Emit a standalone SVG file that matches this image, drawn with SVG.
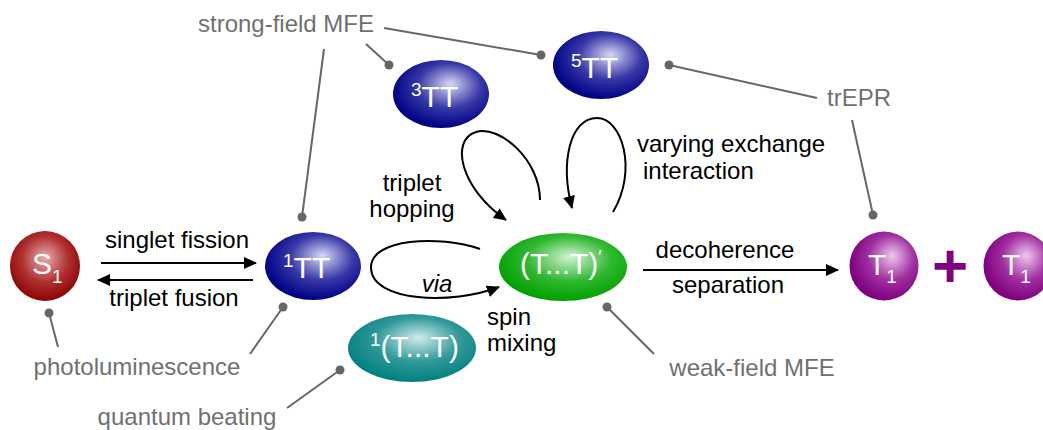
<svg xmlns="http://www.w3.org/2000/svg" width="1043" height="430" viewBox="0 0 1043 430">
<style>
text{font-family:"Liberation Sans",Arial,sans-serif}
.lbl{font-size:24px;fill:#000}
.gry{font-size:24px;fill:#707070}
.node{font-size:30px;fill:#fff}
.sup{font-size:19px}
.ld{stroke:#666;stroke-width:2;fill:none}
.dot{fill:#666}
.arr{stroke:#000;stroke-width:2;fill:none;marker-end:url(#ah)}
</style>
<defs>
<marker id="ah" markerWidth="14" markerHeight="12" refX="12" refY="6" orient="auto" markerUnits="userSpaceOnUse">
<path d="M0,0 L13,6 L0,12 z" fill="#000"/>
</marker>
<radialGradient id="gRed" cx="0.5" cy="0.42" r="0.6" fx="0.5" fy="0.38">
<stop offset="0" stop-color="#eab0b0"/><stop offset="0.55" stop-color="#b03030"/><stop offset="1" stop-color="#8a0000"/>
</radialGradient>
<radialGradient id="gBlue" cx="0.58" cy="0.4" r="0.6" fx="0.6" fy="0.35">
<stop offset="0" stop-color="#d8d8f4"/><stop offset="0.55" stop-color="#3838a8"/><stop offset="1" stop-color="#000084"/>
</radialGradient>
<radialGradient id="gGreen" cx="0.55" cy="0.4" r="0.6" fx="0.55" fy="0.35">
<stop offset="0" stop-color="#d4f4d4"/><stop offset="0.55" stop-color="#30b830"/><stop offset="1" stop-color="#00a000"/>
</radialGradient>
<radialGradient id="gTeal" cx="0.55" cy="0.4" r="0.6" fx="0.55" fy="0.35">
<stop offset="0" stop-color="#d0ecec"/><stop offset="0.55" stop-color="#309898"/><stop offset="1" stop-color="#008080"/>
</radialGradient>
<radialGradient id="gPurp" cx="0.6" cy="0.4" r="0.6" fx="0.62" fy="0.35">
<stop offset="0" stop-color="#f0c8f0"/><stop offset="0.55" stop-color="#a030a0"/><stop offset="1" stop-color="#800080"/>
</radialGradient>
</defs>

<g id="connectors">
<line class="arr" x1="101" y1="263" x2="256" y2="263"/>
<line class="arr" x1="253" y1="280" x2="98" y2="280"/>
<line class="arr" x1="643" y1="270" x2="838" y2="270"/>
<path class="arr" d="M540,200 C540,160 500,125 476,132 C450,140 460,188 506,220"/>
<path class="arr" d="M613,212 C638,170 622,118 597,118 C570,118 560,162 572,208"/>
<path class="arr" d="M480,249 C440,235 370,238 371,268 C372,302 452,305 499,287"/>
</g>

<g id="leaders">
<line class="ld" x1="324" y1="49" x2="302" y2="217"/><circle class="dot" cx="302" cy="217" r="4.5"/>
<line class="ld" x1="366" y1="44" x2="389" y2="65"/><circle class="dot" cx="389" cy="65" r="4.5"/>
<line class="ld" x1="384" y1="28" x2="541" y2="55"/><circle class="dot" cx="541" cy="55" r="4.5"/>
<line class="ld" x1="817" y1="98" x2="669" y2="65"/><circle class="dot" cx="669" cy="65" r="4.5"/>
<line class="ld" x1="852" y1="120" x2="873" y2="215"/><circle class="dot" cx="873" cy="215" r="4.5"/>
<line class="ld" x1="58" y1="347" x2="49" y2="313"/><circle class="dot" cx="49" cy="313" r="4.5"/>
<line class="ld" x1="250" y1="354" x2="283" y2="307"/><circle class="dot" cx="283" cy="307" r="4.5"/>
<line class="ld" x1="287" y1="408" x2="340" y2="370"/><circle class="dot" cx="340" cy="370" r="4.5"/>
<line class="ld" x1="654" y1="354" x2="607" y2="307"/><circle class="dot" cx="607" cy="307" r="4.5"/>
</g>

<g id="S1"><circle cx="45" cy="266" r="35" fill="url(#gRed)"/>
<text class="node" x="32" y="274">S<tspan class="sup" dy="9">1</tspan></text></g>
<g id="TT1"><ellipse cx="313" cy="266" rx="48" ry="34" fill="url(#gBlue)"/>
<text class="node" x="283" y="278"><tspan class="sup" dy="-11">1</tspan><tspan dy="11">TT</tspan></text></g>
<g id="TT3"><ellipse cx="441" cy="94" rx="48" ry="34" fill="url(#gBlue)"/>
<text class="node" x="411" y="107"><tspan class="sup" dy="-11">3</tspan><tspan dy="11">TT</tspan></text></g>
<g id="TT5"><ellipse cx="601" cy="65" rx="48" ry="34" fill="url(#gBlue)"/>
<text class="node" x="571" y="78"><tspan class="sup" dy="-11">5</tspan><tspan dy="11">TT</tspan></text></g>
<g id="TTsep"><ellipse cx="563" cy="267" rx="64" ry="34" fill="url(#gGreen)"/>
<text class="node" x="520" y="274">(T...T)<tspan class="sup" dy="-11">′</tspan></text></g>
<g id="TTsep1"><ellipse cx="412" cy="348" rx="64" ry="34" fill="url(#gTeal)"/>
<text class="node" x="370" y="357"><tspan class="sup" dy="-11">1</tspan><tspan dy="11">(T...T)</tspan></text></g>
<g id="T1a"><circle cx="884" cy="266" r="34.5" fill="url(#gPurp)"/>
<text class="node" x="868" y="275">T<tspan class="sup" dy="8">1</tspan></text></g>
<g id="plus"><text x="950" y="287" text-anchor="middle" font-size="62" font-weight="bold" fill="#800080">+</text></g>
<g id="T1b"><circle cx="1018" cy="266" r="34.5" fill="url(#gPurp)"/>
<text class="node" x="1002" y="275">T<tspan class="sup" dy="8">1</tspan></text></g>

<g id="labels">
<text class="lbl" x="177" y="248" text-anchor="middle">singlet fission</text>
<text class="lbl" x="174" y="306" text-anchor="middle">triplet fusion</text>
<text class="lbl" x="412" y="191" text-anchor="middle">triplet</text>
<text class="lbl" x="412" y="217" text-anchor="middle">hopping</text>
<text class="lbl" x="437" y="292" text-anchor="middle" font-style="italic">via</text>
<text class="lbl" x="487" y="325">spin</text>
<text class="lbl" x="487" y="351">mixing</text>
<text class="lbl" x="637" y="152">varying exchange</text>
<text class="lbl" x="643" y="179">interaction</text>
<text class="lbl" x="725" y="258" text-anchor="middle">decoherence</text>
<text class="lbl" x="728" y="293" text-anchor="middle">separation</text>
<text class="gry" x="286" y="32" text-anchor="middle">strong-field MFE</text>
<text class="gry" x="859" y="106" text-anchor="middle">trEPR</text>
<text class="gry" x="137" y="375" text-anchor="middle">photoluminescence</text>
<text class="gry" x="187" y="425" text-anchor="middle">quantum beating</text>
<text class="gry" x="752" y="376" text-anchor="middle">weak-field MFE</text>
</g>
</svg>
